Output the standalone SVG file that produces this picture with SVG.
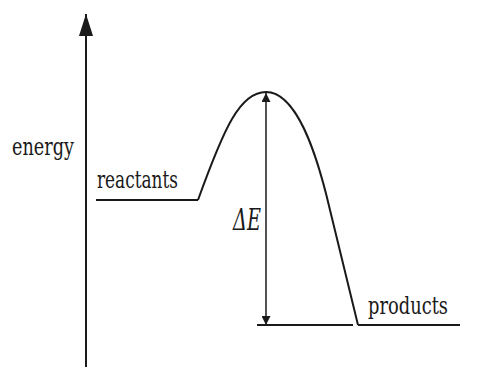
<svg xmlns="http://www.w3.org/2000/svg" width="480" height="369" viewBox="0 0 480 369">
<style>
.ln{stroke:#1a1a1a;stroke-width:2;fill:none}
.thin{stroke:#1a1a1a;stroke-width:1.5;fill:none}
.t{font-family:'DejaVu Serif Condensed','DejaVu Serif',serif;font-stretch:condensed;font-size:25px;fill:#1a1a1a}
</style>
<defs>
<marker id="ah" viewBox="0 0 10 10" refX="10" refY="5" markerWidth="9" markerHeight="9" markerUnits="userSpaceOnUse" orient="auto"><path d="M0,0 L10,5 L0,10 z" fill="#1a1a1a"/></marker>
<marker id="big" viewBox="0 0 10 10" refX="10" refY="5" markerWidth="22" markerHeight="22" markerUnits="userSpaceOnUse" orient="auto"><path d="M0,1.8 L10,5 L0,8.2 z" fill="#1a1a1a"/></marker>
</defs>
<rect width="480" height="369" fill="#fff"/>
<g id="axis">
<line class="ln" x1="86" y1="367" x2="86" y2="14" marker-end="url(#big)"/>
<text class="t" x="12" y="155" textLength="62" lengthAdjust="spacingAndGlyphs">energy</text>
</g>
<g id="reactants">
<line class="ln" x1="96" y1="200" x2="198" y2="200"/>
<text class="t" x="97" y="188" textLength="81" lengthAdjust="spacingAndGlyphs">reactants</text>
</g>
<g id="products">
<line class="ln" x1="358" y1="325" x2="460" y2="325"/>
<line class="ln" x1="257" y1="325" x2="353" y2="325"/>
<text class="t" x="368" y="314" textLength="80" lengthAdjust="spacingAndGlyphs">products</text>
</g>
<g id="curve">
<path class="ln" d="M198,200 C224,128 240,92 266,92 C296,92 316,150 330,210 L358,325"/>
</g>
<g id="connectors">
<line class="thin" x1="266" y1="160" x2="266" y2="93" marker-end="url(#ah)"/>
<line class="thin" x1="266" y1="160" x2="266" y2="325" marker-end="url(#ah)"/>
<text class="t" x="233" y="230" font-style="italic" font-size="29" style="font-size:29px" textLength="28" lengthAdjust="spacingAndGlyphs">ΔE</text>
</g>
</svg>
